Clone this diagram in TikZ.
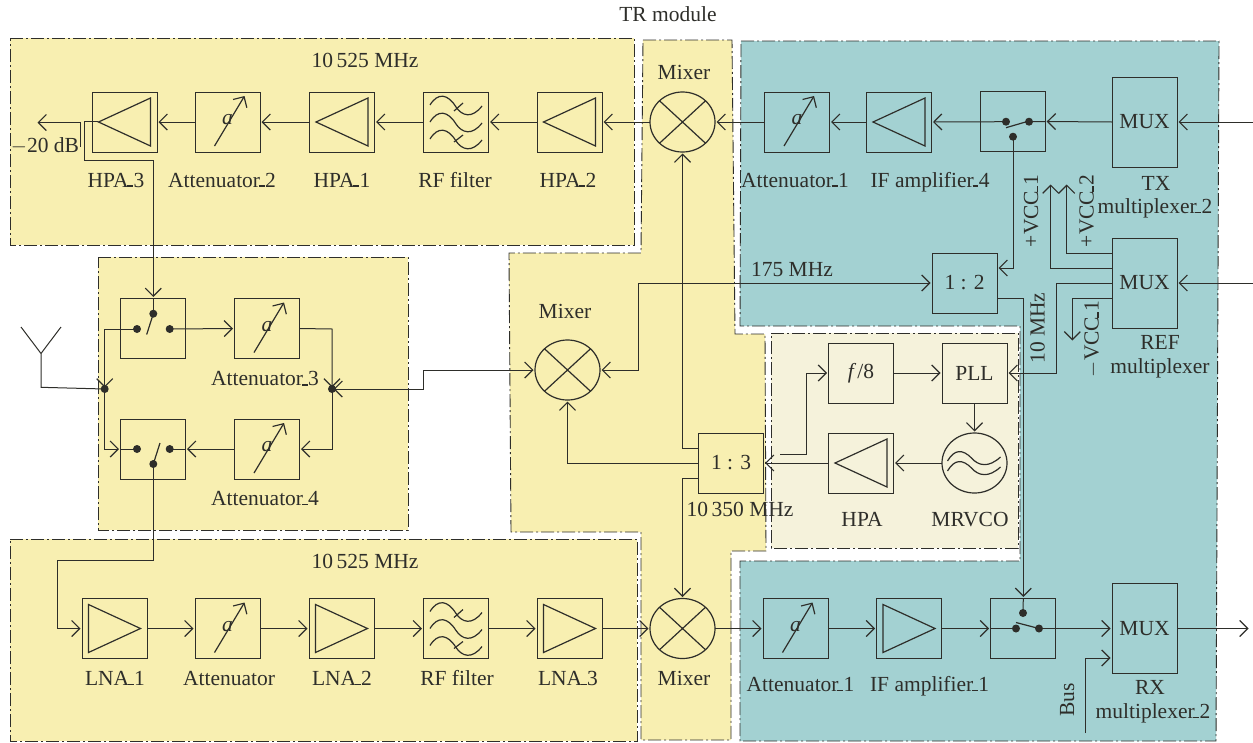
\documentclass[tikz,border=0pt]{standalone}
\usepackage{fontspec}
\setmainfont{Liberation Serif}
\usetikzlibrary{arrows.meta,shapes.geometric}
\definecolor{ylw}{HTML}{F8EFB1}
\definecolor{teal1}{HTML}{A3D1D2}
\definecolor{beige}{HTML}{F5F2DB}
\definecolor{ink}{HTML}{2E2E2A}
\newcommand\us{\kern-.06em\rule[-.02em]{.27em}{.09em}\kern.02em}
\tikzset{
  region/.style={draw=ink,line width=.9pt,dash pattern=on 13pt off 3pt on 2pt off 3pt},
  box/.style={draw=ink,line width=1pt,inner sep=0pt,outer sep=0pt,minimum width=65pt,minimum height=60pt,text=ink,font=\fontsize{21.5pt}{23pt}\selectfont},
  tallbox/.style={box,minimum height=90pt},
  mix/.style={draw=ink,line width=1.2pt,ellipse,inner sep=0pt,outer sep=0pt,minimum width=65pt,minimum height=60pt},
  icon/.style={draw=ink,line width=1.2pt,line join=miter},
  conn/.style={draw=ink,line width=1pt,shorten >=1.5pt},
  arr/.style={conn,-{Straight Barb[length=8pt,width=16pt,line width=1.2pt]}},
  arrb/.style={conn,shorten <=1.5pt,{Straight Barb[length=8pt,width=16pt,line width=1.2pt]}-{Straight Barb[length=8pt,width=16pt,line width=1.2pt]}},
  dotn/.style={circle,fill=ink,inner sep=0pt,minimum size=8pt,outer sep=0pt},
  lab/.style={inner sep=0pt,text=ink,font=\fontsize{21.5pt}{23pt}\selectfont,text height=14pt,text depth=0pt,align=center},
}
\newcommand\ampleft[1]{\draw[icon,shift={(#1.center)}] (-26,0)--(26,-24)--(26,24)--cycle;}
\newcommand\ampright[1]{\draw[icon,shift={(#1.center)}] (26,0)--(-26,-24)--(-26,24)--cycle;}
\newcommand\atten[1]{\node[lab,font=\fontsize{21.5pt}{23pt}\itshape] (#1a) at ([yshift=4.5pt]#1.center) {a};
  \draw[icon,shift={(#1.center)},-{Straight Barb[length=8pt,width=16pt,line width=1.2pt]}] (-13,24)--(17,-26);}
\newcommand\rffilter[1]{\begin{scope}[shift={(#1.center)}]
  \foreach \d in {-17,0,17}{\draw[icon,yshift=-\d pt] (-26,0) .. controls (-18,-13) and (-8,-11) .. (0,2) .. controls (6,11) and (16,14) .. (26,1);}
  \draw[icon] (-2,-11)--(7,-19);\draw[icon] (-2,20)--(7,13);
\end{scope}}
\begin{document}
\begin{tikzpicture}[x=1pt,y=-1pt]
\useasboundingbox (0,0) rectangle (1253,742);
% regions
\path[region,fill=ylw] (10,38)--(634,38)--(634,245)--(10,245)--cycle;
\path[region,fill=ylw] (98,257)--(408,257)--(408,530)--(98,530)--cycle;
\path[region,fill=ylw] (10,539)--(637,539)--(637,741)--(10,741)--cycle;
\path[region,fill=ylw] (643,40)--(732,40)--(735,334)--(765,334)--(766,551)--(731,551)--(731,740)--(641,740)--(641,532)--(511,532)--(509,253)--(641,253)--cycle;
\path[region,fill=teal1] (741,41)--(1219,41)--(1216,741)--(740,741)--(740,561)--(1020,561)--(1020,326)--(740,326)--cycle;
\path[region,fill=beige] (771,333)--(1018,333)--(1018,548)--(771,548)--cycle;

% top row
\node[box] (hpa3) at (124.5,122) {};
\node[box] (att2) at (227.5,122) {};
\node[box] (hpa1) at (342,122) {};
\node[box] (rf1) at (456,122) {};
\node[box] (hpa2) at (569.5,122) {};
\node[mix] (mixt) at (682.5,122) {};
\node[box] (att1t) at (797,122) {};
\node[box] (if4) at (899,122) {};
\node[box] (swt) at (1012.7,121.5) {};
\node[tallbox] (muxt) at (1144.5,122) {MUX};
% middle left
\node[box] (sw1) at (153,328.5) {};
\node[box] (att3) at (267,328.5) {};
\node[box] (sw2) at (153,449) {};
\node[box] (att4) at (267,449) {};
% centre
\node[mix] (mixm) at (567.5,370) {};
\node[box] (div3) at (731,463) {1 : 3};
\node[box] (div2) at (964.5,283) {1 : 2};
\node[tallbox] (muxr) at (1144.5,283) {MUX};
\node[box] (f8) at (861,373) {\textit{f}\kern.04em/8};
\node[box] (pll) at (974.5,373) {PLL};
\node[box] (hpa) at (861,463) {};
\node[draw=ink,line width=1.2pt,ellipse,inner sep=0pt,outer sep=0pt,minimum width=65pt,minimum height=60pt] (vco) at (974.5,463) {};
% bottom row
\node[box] (lna1) at (114.5,628.5) {};
\node[box] (att5) at (227.5,628.5) {};
\node[box] (lna2) at (341.5,628.5) {};
\node[box] (rf2) at (456,628.5) {};
\node[box] (lna3) at (569.5,628.5) {};
\node[mix] (mixb) at (682.5,628.5) {};
\node[box] (att1b) at (795.5,628.5) {};
\node[box] (if1) at (909,628.5) {};
\node[box] (swb) at (1023,628.5) {};
\node[tallbox] (muxb) at (1144.5,628.5) {MUX};

% icons
\ampleft{hpa3}\ampleft{hpa1}\ampleft{hpa2}\ampleft{if4}\ampleft{hpa}
\ampright{lna1}\ampright{lna2}\ampright{lna3}\ampright{if1}
\atten{att2}\atten{att1t}\atten{att3}\atten{att4}\atten{att5}\atten{att1b}
\rffilter{rf1}\rffilter{rf2}
\foreach \m in {mixt,mixm,mixb}{
  \draw[icon] (\m.north west)--(\m.south east) (\m.north east)--(\m.south west);}
\draw[icon,shift={(vco.center)}] (-27,-2) .. controls (-20,-14) and (-12,-14) .. (-3,-5) .. controls (4,3) and (14,5) .. (26,-6);
\draw[icon,shift={(vco.center)}] (-27,8) .. controls (-20,-4) and (-12,-4) .. (-3,5) .. controls (4,13) and (14,15) .. (26,4);

% switch contacts
\node[dotn] (s1l) at (137,329) {};
\node[dotn] (s1r) at (169.7,329) {};
\node[dotn] (s1t) at (153.3,313.7) {};
\draw[icon] (s1t.center)--(146.7,334.5);
\node[dotn] (s2l) at (137,449) {};
\node[dotn] (s2r) at (169.7,449) {};
\node[dotn] (s2b) at (153.3,464) {};
\draw[icon] (s2b.center)--(160,443);
\node[dotn] (stl) at (1006,121.7) {};
\node[dotn] (str) at (1029,121.7) {};
\node[dotn] (stb) at (1013,136.7) {};
\draw[icon] (1006,127.7)--(1030,120.7);
\node[dotn] (sbl) at (1016,628.5) {};
\node[dotn] (sbr) at (1039,628.5) {};
\node[dotn] (sbt) at (1023,613) {};
\draw[icon] (1016,622.5)--(1039,628.5);
% junctions
\node[dotn] (jl) at (104.7,389) {};
\node[dotn] (jr) at (332,389) {};

% free ends
\coordinate (ant) at (41,353.5);
\coordinate (antl) at (21,327);
\coordinate (antr) at (61,327);
\coordinate (outt) at (36,122.5);
\coordinate (bart) at (80.7,122.5);
\coordinate (barb) at (80.7,148.5);
\coordinate (rxout) at (1250,628.5);
\coordinate (txin) at (1253,122);
\coordinate (refin) at (1253,283);
\coordinate (busb) at (1085,733);
\coordinate (vcc1) at (1050.7,183);
\coordinate (vcc2) at (1066.7,183);
\coordinate (vcc3) at (1072.3,342);
\coordinate (free3) at (780,454);

% connectors top chain
\draw[arr] (att2.west)--(hpa3.east);
\draw[arr] (hpa1.west)--(att2.east);
\draw[arr] (rf1.west)--(hpa1.east);
\draw[arr] (hpa2.west)--(rf1.east);
\draw[arr] (mixt.west)--(hpa2.east);
\draw[arr] (att1t.west)--(mixt.east);
\draw[arr] (if4.west)--(att1t.east);
\draw[arr] (stl.center)--(if4.east);
\draw[arr] (muxt.west)--(swt.east);
\draw[conn] (swt.east)--(str.center);
\draw[arr] (txin)--(muxt.east);
\draw[arr] (bart)--(outt);
\draw[conn] (bart)--(barb);
\draw[arr] (98,121.7)--(84,121.7)--(84,160.7)--(153.3,160.7)--(153.3,298.5);
\draw[conn] (153.3,298.5)--(s1t.center);
% left block
\draw[arr] (s1r.center)--(att3.west);
\draw[arr] (s1l.center)--(104.7,329)--(jl.center);
\draw[arr] (att3.east)--(332,329)--(jr.center);
\draw[arr] (jr.center)--(332,449)--(att4.east);
\draw[arr] (att4.west)--(sw2.east);
\draw[conn] (sw2.east)--(s2r.center);
\draw[arr] (jl.center)--(104.7,449)--(sw2.west);
\draw[conn] (sw2.west)--(s2l.center);
\draw[conn] (antl)--(ant)--(antr) (ant)--(41,387.3)--(jl.center);
\draw[arr] (s2b.center)--(153.3,560)--(57,560)--(57,628.5)--(lna1.west);
\draw[arrb] (jr.center)--(423,389)--(423,370)--(mixm.west);
% centre
\draw[arrb] (mixm.east)--(638,370)--(638,283)--(div2.west);
\draw[arr] (699,448)--(682.5,448)--(mixt.south);
\draw[arr] (div3.west)--(567.5,463)--(mixm.south);
\draw[arr] (699,478)--(682.5,478)--(mixb.north);
\draw[arr] (hpa.west)--(div3.east);
\draw[arr] (free3)--(806,454)--(806,373)--(f8.west);
\draw[arr] (f8.east)--(pll.west);
\draw[arr] (pll.south)--(vco.north);
\draw[arr] (vco.west)--(hpa.east);
% right
\draw[arr] (stb.center)--(1013,268)--(997,268);
\draw[arr] (997,298.5)--(1023.3,298.5)--(1023.3,598.5);
\draw[conn] (1023.3,598.5)--(sbt.center);
\draw[arr] (1112,253)--(1066.7,253)--(vcc2);
\draw[arr] (1112,268)--(1050.7,268)--(vcc1);
\draw[arr] (muxr.west)--(1056,283)--(1056,373)--(pll.east);
\draw[arr] (1112,298.5)--(1072.3,298.5)--(vcc3);
\draw[arr] (refin)--(muxr.east);
% bottom chain
\draw[arr] (lna1.east)--(att5.west);
\draw[arr] (att5.east)--(lna2.west);
\draw[arr] (lna2.east)--(rf2.west);
\draw[arr] (rf2.east)--(lna3.west);
\draw[arr] (lna3.east)--(mixb.west);
\draw[arr] (mixb.east)--(att1b.west);
\draw[arr] (att1b.east)--(if1.west);
\draw[arr] (if1.east)--(swb.west);
\draw[conn] (swb.west)--(sbl.center);
\draw[arr] (sbr.center)--(muxb.west);
\draw[arr] (muxb.east)--(rxout);
\draw[arr] (busb)--(1085,658)--(1112,658);

% labels
\node[lab] (t0) at (668,14) {TR module};
\node[lab] (t1) at (365,60) {10\,525 MHz};
\node[lab] (t2) at (365,561) {10\,525 MHz};
\node[lab] (t3) at (45,145) {$-$20 dB};
\node[lab] (l1) at (116,180) {HPA\us 3};
\node[lab] (l2) at (222,180) {Attenuator\us 2};
\node[lab] (l3) at (342,180) {HPA\us 1};
\node[lab] (l4) at (455,180) {RF filter};
\node[lab] (l5) at (568,180) {HPA\us 2};
\node[lab] (l6) at (684,72) {Mixer};
\node[lab] (l7) at (795,180) {Attenuator\us 1};
\node[lab] (l8) at (930,180) {IF amplifier\us 4};
\node[lab] (l9) at (1156,183) {TX};
\node[lab] (l10) at (1155,206) {multiplexer\us 2};
\node[lab] (l11) at (1160,342) {REF};
\node[lab] (l12) at (1160,366) {multiplexer};
\node[lab] (l13) at (565,311) {Mixer};
\node[lab] (l14) at (265,378.5) {Attenuator\us 3};
\node[lab] (l15) at (265,498) {Attenuator\us 4};
\node[lab] (l16) at (792,269) {175 MHz};
\node[lab] (l17) at (740,509) {10\,350 MHz};
\node[lab] (l18) at (862,519) {HPA};
\node[lab] (l19) at (970,519) {MRVCO};
\node[lab] (l20) at (115,678) {LNA\us 1};
\node[lab] (l21) at (229,678) {Attenuator};
\node[lab] (l22) at (342,678) {LNA\us 2};
\node[lab] (l23) at (457,678) {RF filter};
\node[lab] (l24) at (568,678) {LNA\us 3};
\node[lab] (l25) at (684,678) {Mixer};
\node[lab] (l26) at (800.5,684) {Attenuator\us 1};
\node[lab] (l27) at (929.5,684) {IF amplifier\us 1};
\node[lab] (l28) at (1150,687) {RX};
\node[lab] (l29) at (1153,711) {multiplexer\us 2};
\node[lab,rotate=90] (r1) at (1037.7,328) {10 MHz};
\node[lab,rotate=90] (r2) at (1031,211) {+VCC\us 1};
\node[lab,rotate=90] (r3) at (1086.7,211) {+VCC\us 2};
\node[lab,rotate=90] (r4) at (1091.7,339) {$-$VCC\us 1};
\node[lab,rotate=90] (r5) at (1067,700) {Bus};
\end{tikzpicture}
\end{document}
